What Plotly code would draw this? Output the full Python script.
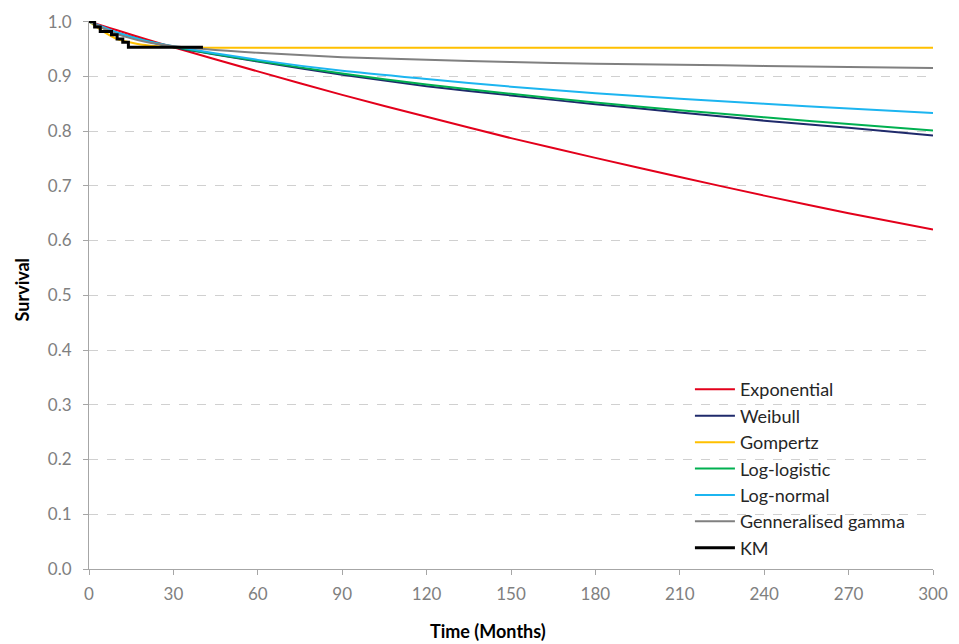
import plotly.graph_objects as go

# ---- data ----
t_model = [0, 5, 10, 20, 30, 60, 90, 120, 150, 180, 210, 240, 270, 300]
exponential = [1.0, 0.992, 0.984, 0.968, 0.953, 0.909, 0.866, 0.826, 0.787, 0.751, 0.716, 0.682, 0.650, 0.620]
weibull = [1.0, 0.988, 0.979, 0.965, 0.953, 0.927, 0.903, 0.882, 0.865, 0.849, 0.834, 0.819, 0.806, 0.792]
gompertz = [1.0, 0.982, 0.968, 0.957, 0.953, 0.952, 0.952, 0.952, 0.952, 0.952, 0.952, 0.952, 0.952, 0.952]
loglogistic = [1.0, 0.988, 0.979, 0.965, 0.954, 0.928, 0.905, 0.885, 0.868, 0.852, 0.838, 0.825, 0.813, 0.801]
lognormal = [1.0, 0.990, 0.980, 0.965, 0.955, 0.930, 0.910, 0.895, 0.881, 0.869, 0.859, 0.850, 0.841, 0.833]
gengamma = [1.0, 0.988, 0.977, 0.963, 0.955, 0.943, 0.935, 0.930, 0.926, 0.923, 0.921, 0.919, 0.917, 0.915]

km_time = [0, 2, 4, 8, 10, 12, 14, 40.5]
km_surv = [1.0, 0.990, 0.982, 0.976, 0.968, 0.962, 0.953, 0.953]

x_ticks = [0, 30, 60, 90, 120, 150, 180, 210, 240, 270, 300]
y_ticks = [0.0, 0.1, 0.2, 0.3, 0.4, 0.5, 0.6, 0.7, 0.8, 0.9, 1.0]

series = [
    ("Exponential", exponential, "#E3001B"),
    ("Weibull", weibull, "#1F2A6B"),
    ("Gompertz", gompertz, "#FFC000"),
    ("Log-logistic", loglogistic, "#00B050"),
    ("Log-normal", lognormal, "#1CB5F0"),
    ("Genneralised gamma", gengamma, "#808080"),
]

fig = go.Figure()
for name, vals, col in series:
    fig.add_trace(go.Scatter(x=t_model, y=vals, mode="lines", name=name, legendgroup=name,
                             line=dict(color=col, width=2, shape="spline", smoothing=0.6)))
fig.add_trace(go.Scatter(x=km_time, y=km_surv, mode="lines", name="KM", legendgroup="KM",
                         line=dict(color="black", width=3, shape="hv")))

font_fam = "Lato, Open Sans, sans-serif"
fig.update_layout(
    width=959, height=644,
    margin=dict(l=89, r=16, t=11, b=75),
    paper_bgcolor="white", plot_bgcolor="white",
    font=dict(family=font_fam, size=17, color="#808080"),
    showlegend=True,
    legend=dict(x=0.712, y=0.361, xanchor="left", yanchor="top",
                bgcolor="rgba(0,0,0,0)", font=dict(size=18, color="#262626"),
                tracegroupgap=0, traceorder="grouped", itemwidth=40),
    xaxis=dict(range=[0, 300], tickvals=x_ticks, showgrid=False, zeroline=False,
               showline=True, linecolor="#A6A6A6", linewidth=1,
               ticks="outside", ticklen=5, tickcolor="#A6A6A6",
               ticklabelstandoff=5, ticklabeloverflow="allow",
               tickfont=dict(size=17, color="#808080")),
    yaxis=dict(range=[0, 1.001], tickvals=y_ticks, tickformat=".1f",
               showgrid=True, gridcolor="#D0D0D0", griddash="dash", gridwidth=1,
               zeroline=False, showline=True, linecolor="#A6A6A6", linewidth=1,
               ticks="outside", ticklen=5, tickcolor="#A6A6A6",
               ticklabelstandoff=8, ticklabeloverflow="allow",
               tickfont=dict(size=17, color="#808080")),
    annotations=[
        dict(text="<b>Time (Months)</b>", xref="paper", yref="paper",
             x=0.473, y=-0.114, xanchor="center", yanchor="middle", showarrow=False,
             font=dict(size=18, color="#000000")),
        dict(text="<b>Survival</b>", xref="paper", yref="paper", textangle=-90,
             x=-0.080, y=0.511, xanchor="center", yanchor="middle", showarrow=False,
             font=dict(size=18, color="#000000")),
    ],
)

fig.write_html("out.html", config={"displayModeBar": False},
               post_script="document.body.style.margin='0';document.body.style.overflow='hidden';")
